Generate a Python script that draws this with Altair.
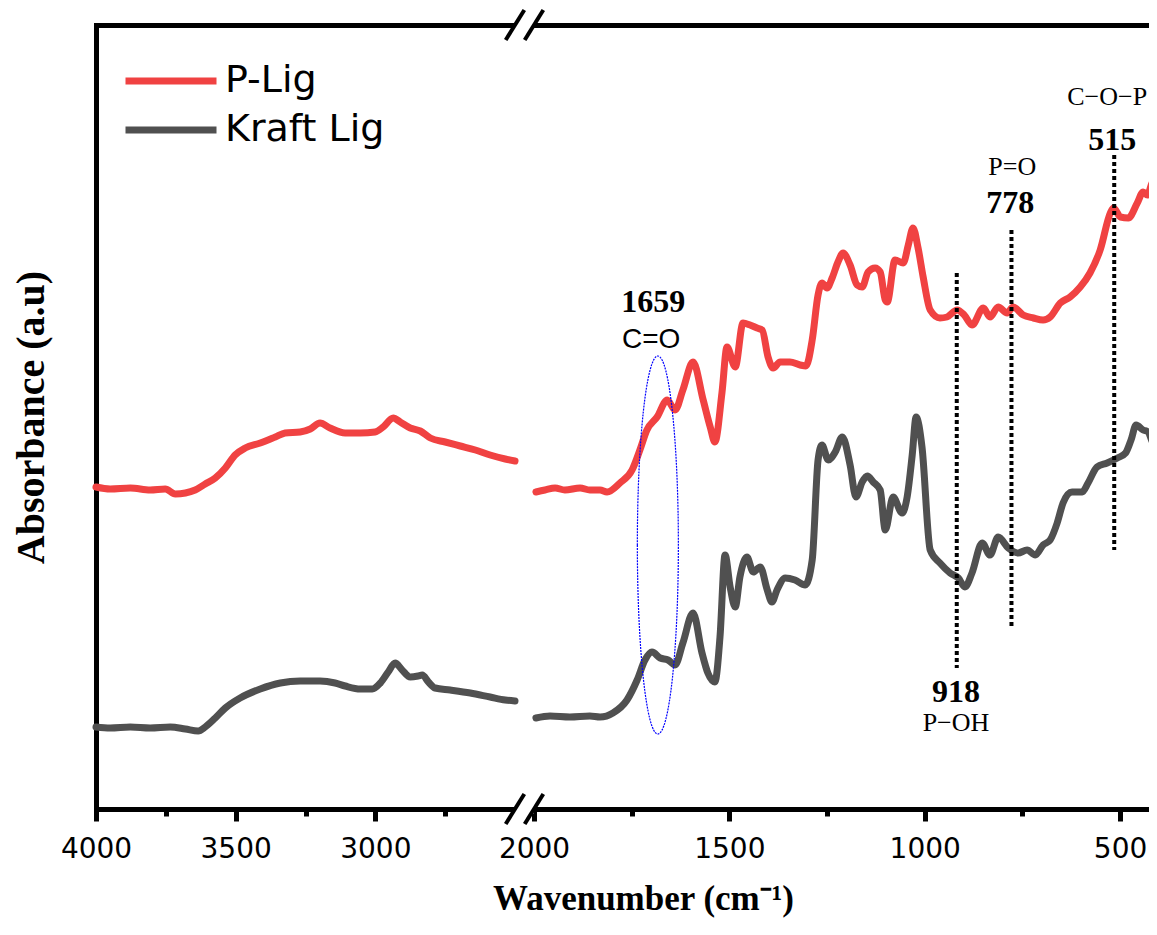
import altair as alt
import pandas as pd

# ---------------- data ----------------
# wavenumber (cm-1) and absorbance (arbitrary units)
series_names = ["P-Lig", "Kraft Lig"]

plig_left_wn = [4000, 3949, 3877, 3806, 3752, 3716, 3680, 3645, 3609, 3573,
                3537, 3502, 3466, 3412, 3358, 3323, 3269, 3233, 3198, 3162,
                3108, 3054, 3001, 2972, 2936, 2911, 2875, 2839, 2803, 2750,
                2696, 2642, 2589, 2535, 2500]
plig_left_abs = [322, 320, 321, 319, 320, 315, 316, 319, 325, 331,
                 341, 354, 361, 366, 372, 376, 377, 380, 386, 381,
                 376, 376, 377, 382, 391, 387, 381, 378, 371, 367,
                 363, 359, 354, 350, 348]

kraft_left_wn = [4000, 3949, 3877, 3806, 3734, 3680, 3634, 3609, 3573, 3537,
                 3484, 3412, 3340, 3269, 3198, 3144, 3108, 3054, 3011, 2982,
                 2954, 2929, 2904, 2875, 2847, 2832, 2810, 2786, 2732, 2660,
                 2589, 2535, 2500]
kraft_left_abs = [82, 81, 82, 81, 82, 80, 78, 82, 91, 101,
                  111, 120, 126, 128, 128, 126, 123, 120, 120, 126,
                  137, 146, 139, 132, 133, 134, 127, 121, 119, 116,
                  112, 109, 108]

plig_right_wn = [1995, 1972, 1946, 1921, 1882, 1857, 1831, 1813, 1780, 1749,
                 1729, 1711, 1685, 1659, 1639, 1619, 1593, 1567, 1549, 1537,
                 1519, 1506, 1485, 1465, 1447, 1429, 1416, 1401, 1388, 1370,
                 1345, 1319, 1304, 1288, 1273, 1263, 1250, 1237, 1222, 1209,
                 1191, 1173, 1160, 1145, 1127, 1114, 1101, 1096, 1076, 1055,
                 1042, 1030, 1017, 1004, 986, 961, 943, 917, 899, 879,
                 850, 833, 812, 789, 774, 748, 722, 697, 679, 653,
                 628, 602, 577, 551, 525, 517, 499, 479, 456, 441,
                 430, 417, 405]
plig_right_abs = [317, 319, 321, 319, 321, 319, 319, 317, 326, 339,
                  359, 379, 392, 409, 399, 419, 447, 409, 382, 367,
                  416, 462, 442, 486, 484, 481, 479, 452, 441, 447,
                  447, 444, 443, 469, 514, 526, 521, 531, 547, 556,
                  544, 524, 522, 537, 541, 537, 509, 507, 549, 546,
                  564, 581, 561, 532, 499, 491, 492, 499, 494, 484,
                  501, 492, 502, 496, 502, 494, 491, 489, 492, 506,
                  512, 522, 536, 559, 596, 601, 592, 591, 606, 617,
                  614, 627, 629]

kraft_right_wn = [1995, 1959, 1908, 1857, 1831, 1798, 1762, 1736, 1716, 1698,
                  1677, 1657, 1639, 1619, 1593, 1570, 1555, 1537, 1524, 1511,
                  1498, 1485, 1473, 1455, 1439, 1421, 1403, 1391, 1378, 1357,
                  1332, 1306, 1288, 1273, 1263, 1247, 1229, 1211, 1191, 1176,
                  1160, 1147, 1132, 1114, 1101, 1081, 1058, 1045, 1032, 1022,
                  1007, 986, 961, 935, 914, 897, 879, 853, 833, 812,
                  786, 761, 738, 717, 697, 679, 661, 646, 623, 597,
                  582, 559, 533, 507, 486, 472, 459, 441, 428, 417,
                  405]
kraft_right_abs = [91, 93, 92, 93, 92, 96, 109, 129, 149, 157,
                   151, 149, 144, 166, 196, 156, 136, 127, 172, 254,
                   222, 202, 232, 252, 237, 242, 219, 207, 219, 231,
                   229, 224, 249, 349, 364, 349, 357, 372, 344, 312,
                   327, 333, 327, 319, 279, 312, 296, 312, 354, 392,
                   362, 259, 246, 236, 231, 222, 236, 266, 254, 272,
                   261, 256, 259, 254, 264, 269, 286, 306, 317, 317,
                   326, 342, 346, 351, 356, 369, 384, 379, 377, 367,
                   364]

# axis ticks
major_ticks = [4000, 3500, 3000, 2000, 1500, 1000, 500]
minor_ticks = [3750, 3250, 2750, 1750, 1250, 750]
break_wn = [2500, 2000]

# annotations
num_labels = ["1659", "515", "778", "918"]
num_wn = [1695, 520, 781, 920]
num_abs = [497, 659, 596, 107]

bond_labels = ["C\u2212O\u2212P", "P=O", "P\u2212OH"]
bond_wn = [533, 776, 920]
bond_abs = [704, 634, 78]

co_label = ["C=O"]
co_wn = [1700]
co_abs = [461]

peak_wn = [918, 778, 515]
peak_top = [536, 579, 654]
peak_bottom = [141, 183, 259]

ellipse_wn = [1683]
ellipse_abs = [264]

# ---------------- build tables ----------------
rows = []
for name, seg, wns, ab in [
    ("P-Lig", "L", plig_left_wn, plig_left_abs),
    ("P-Lig", "R", plig_right_wn, plig_right_abs),
    ("Kraft Lig", "L", kraft_left_wn, kraft_left_abs),
    ("Kraft Lig", "R", kraft_right_wn, kraft_right_abs),
]:
    for w, a in zip(wns, ab):
        rows.append({"series": name, "segment": name + seg, "wn": w, "abs": a})
df = pd.DataFrame(rows)

RED = "#F04242"
GRAY = "#505050"
W, H = 1053, 784

xscale = alt.Scale(domain=[4000, 2500, 2000, 426], range=[0, 419, 438, W], nice=False, zero=False)
yscale = alt.Scale(domain=[0, 784], nice=False, zero=False)

all_ticks = sorted(major_ticks + minor_ticks, reverse=True)
is_minor = "indexof([" + ",".join(str(t) for t in minor_ticks) + "], datum.value) >= 0"

x_bottom = alt.Axis(
    values=all_ticks, format="d", labelExpr=f"{is_minor} ? '' : datum.label",
    tickSize={"condition": {"test": is_minor, "value": 7}, "value": 12},
    tickWidth=5, tickColor="black", domainWidth=5, domainColor="black", domainCap="square",
    labelFont="DejaVu Sans", labelFontSize=28, labelColor="black", labelPadding=14,
    labelFlush=False, labelOverlap=False, grid=False,
    title="Wavenumber (cm\u207b\u00b9)", titleFont="Liberation Serif", titleFontWeight="bold",
    titleFontSize=35, titleColor="black", titleX=547, titleY=72, titleBaseline="top",
)
x_top = alt.Axis(orient="top", domain=True, ticks=False, labels=False, title=None, grid=False,
                 domainWidth=5, domainColor="black", domainCap="square")
y_axis = alt.Axis(domain=True, ticks=False, labels=False, grid=False, domainWidth=5,
                  domainColor="black", domainCap="square",
                  title="Absorbance (a.u)", titleFont="Liberation Serif", titleFontWeight="bold",
                  titleFontSize=40, titleColor="black", titlePadding=45)

color = alt.Color(
    "series:N", scale=alt.Scale(domain=series_names, range=[RED, GRAY]),
    legend=alt.Legend(title=None, orient="none", legendX=26, legendY=36, symbolType="stroke",
                      symbolSize=8281, symbolStrokeWidth=7, labelFont="DejaVu Sans",
                      labelFontSize=38, labelColor="black", labelOffset=5, padding=0,
                      clipHeight=40, rowPadding=9, symbolOpacity=1),
)

lines = alt.Chart(df).mark_line(strokeWidth=7, interpolate="monotone", strokeCap="round",
                                strokeJoin="round").encode(
    x=alt.X("wn:Q", scale=xscale, axis=x_bottom),
    y=alt.Y("abs:Q", scale=yscale, axis=y_axis),
    color=color,
    detail="segment:N",
)

peaks_df = pd.DataFrame({"wn": peak_wn, "top": peak_top, "bottom": peak_bottom})
peaks = alt.Chart(peaks_df).mark_rule(color="black", strokeWidth=4, strokeDash=[4, 3]).encode(
    x=alt.X("wn:Q", scale=xscale, axis=x_top),
    y=alt.Y("top:Q", scale=yscale, axis=None),
    y2="bottom:Q",
)

gap_df = pd.DataFrame({"a": [break_wn[0]] * 2, "b": [break_wn[1]] * 2, "abs": [0, 784]})
gap = alt.Chart(gap_df).mark_rule(color="white", strokeWidth=9, strokeCap="butt").encode(
    x=alt.X("a:Q", scale=xscale, axis=None), x2="b:Q",
    y=alt.Y("abs:Q", scale=yscale, axis=None),
)

slash_df = pd.DataFrame({"wn": break_wn * 2, "abs": [0, 0, 784, 784]})
slash = alt.Chart(slash_df).mark_point(
    shape="M -0.62 1 L 0.62 -1", size=900, strokeWidth=4, color="black", filled=False, opacity=1
).encode(
    x=alt.X("wn:Q", scale=xscale, axis=None),
    y=alt.Y("abs:Q", scale=yscale, axis=None),
)

ell_df = pd.DataFrame({"wn": ellipse_wn, "abs": ellipse_abs})
ellipse = alt.Chart(ell_df).mark_point(
    shape="M -0.1085 0 A 0.1085 1 0 1 0 0.1085 0 A 0.1085 1 0 1 0 -0.1085 0 Z",
    size=142884, strokeWidth=1.2, color="#0000FF", filled=False, opacity=1, strokeDash=[2, 1],
).encode(
    x=alt.X("wn:Q", scale=xscale, axis=None),
    y=alt.Y("abs:Q", scale=yscale, axis=None),
)

nums = alt.Chart(pd.DataFrame({"t": num_labels, "wn": num_wn, "abs": num_abs})).mark_text(
    font="Liberation Serif", fontWeight="bold", fontSize=32, color="black",
    align="center", baseline="alphabetic",
).encode(x=alt.X("wn:Q", scale=xscale, axis=None), y=alt.Y("abs:Q", scale=yscale, axis=None), text="t:N")

bonds = alt.Chart(pd.DataFrame({"t": bond_labels, "wn": bond_wn, "abs": bond_abs})).mark_text(
    font="Liberation Serif", fontSize=26, color="black", align="center", baseline="alphabetic",
).encode(x=alt.X("wn:Q", scale=xscale, axis=None), y=alt.Y("abs:Q", scale=yscale, axis=None), text="t:N")

co = alt.Chart(pd.DataFrame({"t": co_label, "wn": co_wn, "abs": co_abs})).mark_text(
    font="Liberation Sans", fontSize=28, color="black", align="center", baseline="alphabetic",
).encode(x=alt.X("wn:Q", scale=xscale, axis=None), y=alt.Y("abs:Q", scale=yscale, axis=None), text="t:N")

chart = alt.layer(lines, peaks, gap, slash, ellipse, nums, bonds, co).resolve_axis(
    x="independent", y="independent"
).properties(
    width=W, height=H,
    autosize=alt.AutoSizeParams(type="none"),
    padding={"left": 88, "top": 17, "right": 0, "bottom": 110},
    background="white",
).configure_view(stroke=None)

chart.save("out.html", embed_options={"renderer": "svg", "actions": False})
